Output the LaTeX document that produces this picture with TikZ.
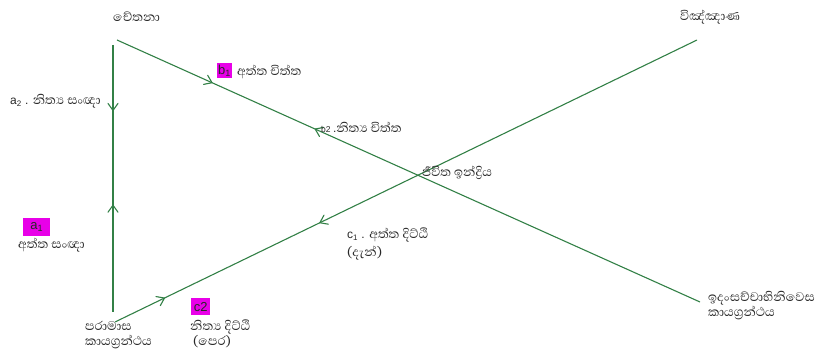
\documentclass[tikz,border=0pt]{standalone}
\usepackage{fontspec}
\setmainfont{Liberation Sans}
\newfontfamily\sinhfont[Script=Sinhala]{Abhaya Libre}
\usetikzlibrary{decorations.markings}
\definecolor{lg}{RGB}{50,128,70}
\definecolor{mag}{RGB}{232,0,232}
\definecolor{tx}{RGB}{40,40,40}
\newcommand{\lat}[1]{{\rmfamily\fontsize{12}{14}\selectfont #1}}
\newcommand{\fw}{\draw[lg,line width=1.1pt,line cap=round,line join=round] (-7pt,5pt) -- (0pt,0pt) -- (-7pt,-5pt);}
\newcommand{\bw}{\draw[lg,line width=1.1pt,line cap=round,line join=round] (7pt,5pt) -- (0pt,0pt) -- (7pt,-5pt);}
\begin{document}
\begin{tikzpicture}[x=1pt,y=-1pt,
  ln/.style={draw=lg, line width=1.1pt},
  lbl/.style={font=\sinhfont\fontsize{16}{18}\selectfont, text=tx, inner sep=0pt, anchor=west},
  two/.style={lbl, align=left, font=\sinhfont\fontsize{16}{15}\selectfont},
  tagbox/.style={fill=mag, inner sep=1pt, text=tx, font=\rmfamily\fontsize{13}{14}\selectfont, anchor=north west}
]
\useasboundingbox (0,0) rectangle (823,355);
% end points
\coordinate (vtop) at (113,45);
\coordinate (vbot) at (113,312);
\coordinate (cetS) at (117,40);
\coordinate (cetE) at (700,302);
\coordinate (parS) at (115,322);
\coordinate (parE) at (697,40);
% connectors
\draw[ln, postaction={decorate}, decoration={markings,
  mark=at position 0.245 with {\fw},
  mark=at position 0.6 with {\bw}}] (vtop) -- (vbot);
\draw[ln, postaction={decorate}, decoration={markings,
  mark=at position 0.163 with {\fw},
  mark=at position 0.34 with {\bw}}] (cetS) -- (cetE);
\draw[ln, postaction={decorate}, decoration={markings,
  mark=at position 0.085 with {\fw},
  mark=at position 0.352 with {\bw}}] (parS) -- (parE);
% labels
\node[lbl] (cet) at (113,17) {චේතනා};
\node[lbl] (vin) at (680,17) {විඤ්ඤාණ};
\node[tagbox, minimum width=14pt, minimum height=15pt] (b1) at (217,63) {b\textsubscript{1}};
\node[lbl] (b1t) at (237,72) {අත්ත චිත්ත};
\node[lbl] (a2) at (10,101) {\lat{a\textsubscript{2} . }නිත්‍ය සංඥා};
\node[lbl] (b2) at (321,127) {{\rmfamily\fontsize{8.5}{10}\selectfont b2 }\lat{.}නිත්‍ය චිත්ත};
\node[lbl] (jiv) at (422,173) {ජීවිත ඉන්ද්‍රිය};
\node[tagbox, minimum width=27pt, minimum height=18pt] (a1) at (23,218) {a\textsubscript{1}};
\node[lbl] (a1t) at (18,245) {අත්ත සංඥා};
\node[lbl] (c1) at (347,235) {\lat{c\textsubscript{1} . }අත්ත දිට්ඨි};
\node[lbl] (c1b) at (347,253) {(දැන්)};
\node[tagbox, minimum width=19pt, minimum height=17pt] (c2) at (191,298) {c2};
\node[two] (c2t) at (190,333.5) {නිත්‍ය දිට්ඨි\\\hspace*{3pt}(පෙර)};
\node[two] (par) at (85,335.5) {පරාමාස\\කායග්‍රන්ථය};
\node[two] (ida) at (708,305.5) {ඉදංසච්චාභිනිවෙස\\කායග්‍රන්ථය};
\end{tikzpicture}
\end{document}
